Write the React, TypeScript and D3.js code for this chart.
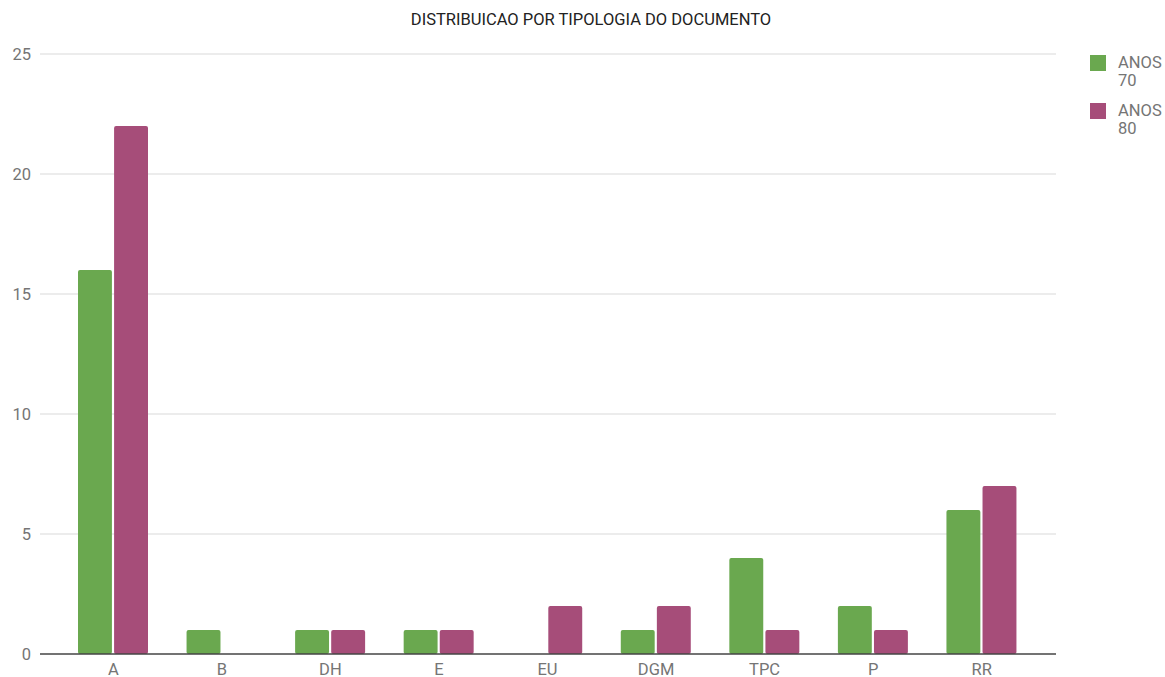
import React from 'react';
import * as d3 from 'd3';

const categories = ['A', 'B', 'DH', 'E', 'EU', 'DGM', 'TPC', 'P', 'RR'];
const seriesNames = ['ANOS 70', 'ANOS 80'];
const anos70 = [16, 1, 1, 1, 0, 1, 4, 2, 6];
const anos80 = [22, 0, 1, 1, 2, 2, 1, 1, 7];
const yTicks = [0, 5, 10, 15, 20, 25];
const colors = ['#6aa84f', '#a64d79'];

const W = 1165;
const H = 677;
const font = 'Roboto, "Noto Sans", sans-serif';

export default function App() {
  const y = d3.scaleLinear().domain([0, 25]).range([654, 54]);
  const x0 = d3.scaleBand<string>().domain(categories).range([59, 1036]);
  const x1 = d3.scaleBand<string>().domain(seriesNames).range([19, 89]).paddingInner(0.06);
  const values = [anos70, anos80];

  return (
    <svg width={W} height={H} style={{ position: 'absolute', left: 0, top: 0 }}>
      <rect width={W} height={H} fill="#fff" />
      <text x={591} y={25} textAnchor="middle" fontFamily={font} fontSize={16.5} fill="#222">
        DISTRIBUICAO POR TIPOLOGIA DO DOCUMENTO
      </text>
      {yTicks.map((t) => (
        <g key={t}>
          {t !== 0 && <line x1={40} x2={1056} y1={y(t)} y2={y(t)} stroke="#d9d9d9" strokeWidth={1} />}
          <text x={31} y={y(t) + 6} textAnchor="end" fontFamily={font} fontSize={16.5} fill="#757575">
            {t}
          </text>
        </g>
      ))}
      {categories.map((c, i) => (
        <g key={c} transform={`translate(${x0(c)},0)`}>
          {seriesNames.map((s, j) =>
            values[j][i] > 0 ? (
              <rect
                key={s}
                x={x1(s)}
                y={y(values[j][i])}
                width={x1.bandwidth()}
                height={y(0) - y(values[j][i])}
                rx={2}
                fill={colors[j]}
              />
            ) : null
          )}
          <text
            x={x0.bandwidth() / 2}
            y={675}
            textAnchor="middle"
            fontFamily={font}
            fontSize={16.5}
            fill="#757575"
          >
            {c}
          </text>
        </g>
      ))}
      <line x1={40} x2={1056} y1={y(0)} y2={y(0)} stroke="#444" strokeWidth={1.5} />
      {seriesNames.map((s, j) => {
        const [a, b] = s.split(' ');
        const top = 55 + j * 48;
        return (
          <g key={s}>
            <rect x={1090} y={top} width={16} height={16} fill={colors[j]} />
            <text fontFamily={font} fontSize={16.5} fill="#757575">
              <tspan x={1118} y={top + 13}>{a}</tspan>
              <tspan x={1118} y={top + 31}>{b}</tspan>
            </text>
          </g>
        );
      })}
    </svg>
  );
}
